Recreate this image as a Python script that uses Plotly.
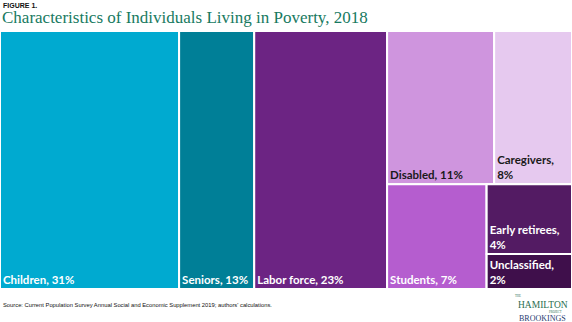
import plotly.graph_objects as go

# Data
categories = ["Children", "Seniors", "Labor force", "Disabled", "Caregivers",
              "Students", "Early retirees", "Unclassified"]
shares = [31, 13, 23, 11, 8, 7, 4, 2]
label_text = ["Children, 31%", "Seniors, 13%", "Labor force, 23%", "Disabled, 11%",
              "Caregivers,<br>8%", "Students, 7%", "Early retirees,<br>4%", "Unclassified,<br>2%"]
tile_colors = ["#00aad0", "#007f97", "#6c2483", "#cf95de", "#e6c9ef",
               "#b55dcf", "#531b63", "#3f0f4b"]
text_colors = ["white", "white", "white", "#1a1a1a", "#1a1a1a", "white", "white", "white"]

ids, parents, values, texts, colors, tcolors = [], [], [], [], [], []


def add_group(node_id, parent_id):
    ids.append(node_id); parents.append(parent_id); values.append(0)
    texts.append(""); colors.append("white"); tcolors.append("white")


def add_leaf(i, parent_id):
    ids.append(categories[i]); parents.append(parent_id); values.append(shares[i])
    texts.append("<b>" + label_text[i] + "</b>"); colors.append(tile_colors[i]); tcolors.append(text_colors[i])


add_group("root", "")
for i in range(3):
    add_leaf(i, "root")
add_group("others", "root")
add_group("top", "others")
add_group("bottom", "others")
add_leaf(3, "top")
add_leaf(4, "top")
add_leaf(5, "bottom")
add_group("rightcol", "bottom")
add_leaf(6, "rightcol")
add_leaf(7, "rightcol")

fig = go.Figure(go.Treemap(
    ids=ids, labels=ids, parents=parents, values=values,
    branchvalues="remainder", sort=False,
    text=texts, texttemplate="%{text}", textposition="bottom left",
    textfont=dict(family="Lato, Open Sans, sans-serif", size=11.5, color=tcolors),
    marker=dict(colors=colors, line=dict(color="white", width=2),
                pad=dict(t=0, l=0, r=0, b=0)),
    tiling=dict(packing="slice-dice", pad=0),
    pathbar=dict(visible=False),
    root=dict(color="white"),
    hoverinfo="skip",
))

fig.update_layout(
    width=572, height=322,
    margin=dict(l=0, r=0, t=31, b=33),
    paper_bgcolor="white",
    showlegend=False,
    uniformtext=dict(minsize=6),
    annotations=[
        dict(text="<b>FIGURE 1.</b>", x=0, y=1, xref="paper", yref="paper",
             xanchor="left", yanchor="top", yshift=31, xshift=1, showarrow=False,
             font=dict(family="Liberation Sans, Arial", size=7, color="#111")),
        dict(text="Characteristics of Individuals Living in Poverty, 2018", x=0, y=1,
             xref="paper", yref="paper", xanchor="left", yanchor="top", yshift=25, xshift=0,
             showarrow=False,
             font=dict(family="Liberation Serif, serif", size=17, color="#177a5f")),
        dict(text="Source: Current Population Survey Annual Social and Economic Supplement 2019; authors' calculations.",
             x=0, y=0, xref="paper", yref="paper", xanchor="left", yanchor="top",
             yshift=-11, xshift=1, showarrow=False,
             font=dict(family="Liberation Sans, Arial", size=5.8, color="#111")),
        dict(text="THE", x=0.906, y=0, xref="paper", yref="paper", xanchor="center", yanchor="middle",
             yshift=-7, showarrow=False, font=dict(family="Liberation Serif", size=3, color="#2a6e4f")),
        dict(text="HAMILTON", x=0.949, y=0, xref="paper", yref="paper", xanchor="center", yanchor="middle",
             yshift=-16, showarrow=False, font=dict(family="Liberation Serif", size=9.5, color="#2a6e4f")),
        dict(text="PROJECT", x=0.972, y=0, xref="paper", yref="paper", xanchor="center", yanchor="middle",
             yshift=-22.5, showarrow=False, font=dict(family="Liberation Serif", size=3, color="#2a6e4f")),
        dict(text="BROOKINGS", x=0.949, y=0, xref="paper", yref="paper", xanchor="center", yanchor="middle",
             yshift=-29, showarrow=False, font=dict(family="Liberation Serif", size=8, color="#1f3b70")),
    ],
)

fig.write_html("out.html")
